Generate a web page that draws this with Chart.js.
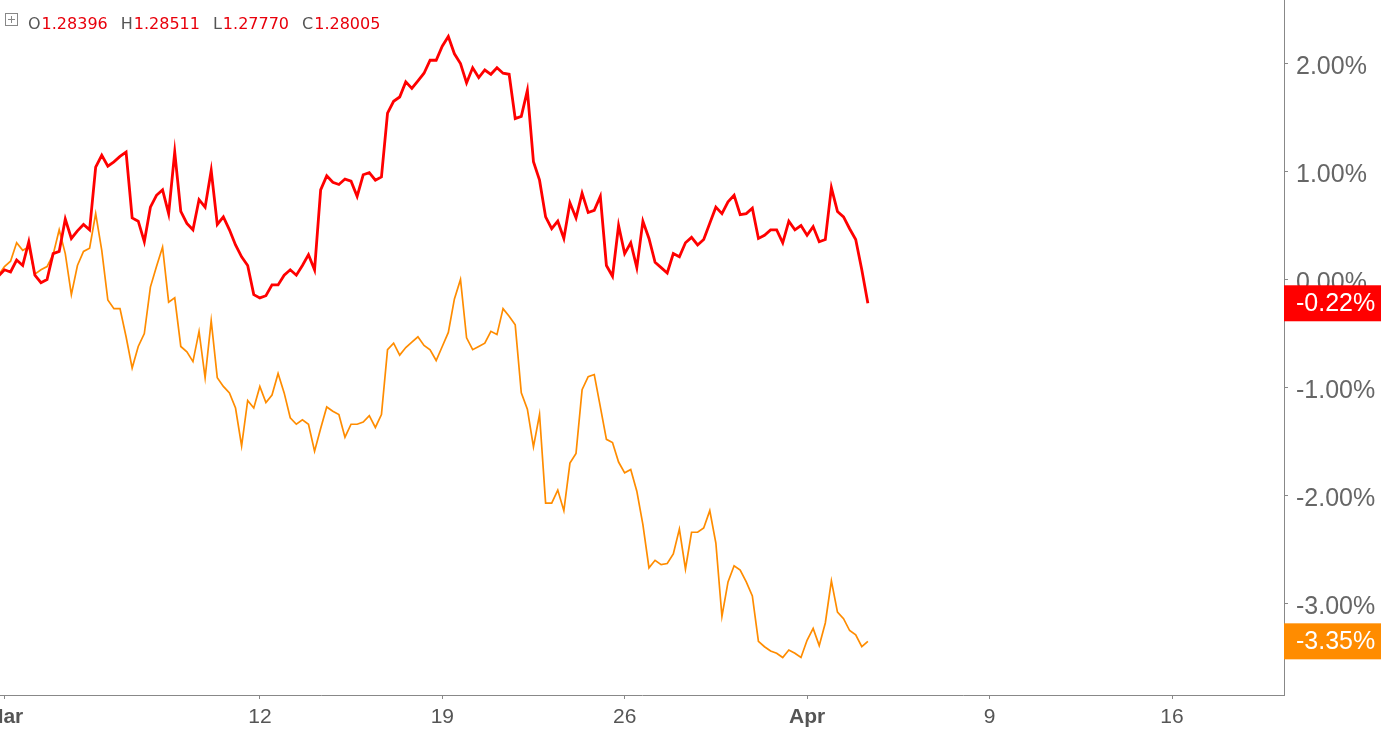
<!DOCTYPE html>
<html>
<head>
<meta charset="utf-8">
<script src="https://cdn.jsdelivr.net/npm/chart.js@4.4.1/dist/chart.umd.min.js"></script>
<style>
  html, body { margin: 0; padding: 0; background: #fff; }
  #wrap { width: 1381px; height: 729px; }
</style>
</head>
<body>
<div id="wrap"><canvas id="cmp" width="1381" height="729"></canvas></div>
<script>
// percent change vs first visible bar, 4h bars
const red = [
  0.03, 0.09, 0.07, 0.18, 0.13, 0.35, 0.04, -0.03, 0.00, 0.24,
  0.26, 0.56, 0.38, 0.45, 0.51, 0.46, 1.04, 1.15, 1.05, 1.09,
  1.14, 1.18, 0.57, 0.54, 0.35, 0.67, 0.78, 0.83, 0.61, 1.18,
  0.63, 0.52, 0.46, 0.74, 0.67, 1.01, 0.51, 0.58, 0.46, 0.32,
  0.21, 0.13, -0.14, -0.17, -0.15, -0.05, -0.05, 0.04, 0.09, 0.04,
  0.13, 0.23, 0.09, 0.83, 0.96, 0.90, 0.88, 0.93, 0.91, 0.77,
  0.97, 0.99, 0.92, 0.95, 1.54, 1.65, 1.69, 1.83, 1.77, 1.84,
  1.91, 2.03, 2.03, 2.16, 2.25, 2.09, 2.00, 1.82, 1.96, 1.87,
  1.94, 1.90, 1.96, 1.91, 1.90, 1.49, 1.51, 1.75, 1.09, 0.92,
  0.58, 0.47, 0.54, 0.38, 0.71, 0.57, 0.80, 0.62, 0.64, 0.77,
  0.13, 0.03, 0.50, 0.24, 0.34, 0.11, 0.54, 0.38, 0.16, 0.11,
  0.06, 0.24, 0.21, 0.34, 0.39, 0.32, 0.37, 0.52, 0.67, 0.61,
  0.72, 0.78, 0.60, 0.61, 0.66, 0.38, 0.41, 0.46, 0.46, 0.34,
  0.54, 0.46, 0.50, 0.41, 0.49, 0.35, 0.37, 0.85, 0.63, 0.58,
  0.47, 0.37, 0.09, -0.22
];
const orange = [
  0.04, 0.12, 0.17, 0.34, 0.27, 0.30, 0.05, 0.09, 0.12, 0.23,
  0.46, 0.24, -0.14, 0.13, 0.26, 0.29, 0.61, 0.27, -0.19, -0.27,
  -0.27, -0.53, -0.82, -0.62, -0.50, -0.07, 0.12, 0.30, -0.21, -0.17,
  -0.62, -0.67, -0.76, -0.48, -0.91, -0.38, -0.91, -0.99, -1.05, -1.19,
  -1.54, -1.12, -1.19, -0.99, -1.14, -1.07, -0.87, -1.05, -1.28, -1.34,
  -1.30, -1.34, -1.59, -1.38, -1.18, -1.22, -1.25, -1.46, -1.34, -1.34,
  -1.32, -1.26, -1.37, -1.25, -0.65, -0.59, -0.70, -0.63, -0.58, -0.53,
  -0.61, -0.65, -0.75, -0.62, -0.49, -0.18, 0.00, -0.54, -0.65, -0.62,
  -0.59, -0.48, -0.51, -0.27, -0.34, -0.42, -1.05, -1.20, -1.55, -1.25,
  -2.07, -2.07, -1.95, -2.14, -1.70, -1.61, -1.02, -0.90, -0.88, -1.18,
  -1.48, -1.51, -1.69, -1.79, -1.76, -1.96, -2.27, -2.67, -2.60, -2.64,
  -2.63, -2.54, -2.31, -2.68, -2.34, -2.34, -2.30, -2.14, -2.44, -3.12,
  -2.80, -2.65, -2.69, -2.80, -2.93, -3.35, -3.40, -3.44, -3.46, -3.50,
  -3.43, -3.46, -3.50, -3.34, -3.23, -3.39, -3.18, -2.79, -3.08, -3.14,
  -3.25, -3.29, -3.40, -3.35
];

// x axis in trading days since Mar 1 (weekends skipped)
const xTickDays = [0, 7, 12, 17, 22, 27, 32];
const xTickLabels = ['Mar', '12', '19', '26', 'Apr', '9', '16'];
const monthLabels = ['Mar', 'Apr'];
const yTicks = [-3, -2, -1, 0, 1, 2];
const ohlc = [['O', '1.28396'], ['H', '1.28511'], ['L', '1.27770'], ['C', '1.28005']];

const FIRST_DAY = -0.17;
const BARS_PER_DAY = 6;
const RED = '#ff0000';
const ORANGE = '#ff8c00';
const SANS = '"Liberation Sans", Arial, sans-serif';

const toPoints = arr => arr.map((v, i) => ({ x: FIRST_DAY + i / BARS_PER_DAY, y: v }));
const xLabel = v => {
  const i = xTickDays.indexOf(v);
  return i < 0 ? '' : xTickLabels[i];
};

const overlay = {
  id: 'overlay',
  afterDraw(chart) {
    const ctx = chart.ctx;
    const ys = chart.scales.y;
    const area = chart.chartArea;
    ctx.save();

    // last value tags on the price scale
    [[red, RED], [orange, ORANGE]].forEach(([arr, col]) => {
      const v = arr[arr.length - 1];
      const py = ys.getPixelForValue(v);
      ctx.fillStyle = col;
      ctx.fillRect(area.right, py - 18, chart.width - area.right, 36);
      ctx.fillStyle = '#fff';
      ctx.font = '25px ' + SANS;
      ctx.textAlign = 'left';
      ctx.textBaseline = 'middle';
      ctx.fillText(v.toFixed(2) + '%', area.right + 12, py + 1);
    });

    // header: small box icon + OHLC
    ctx.strokeStyle = '#888';
    ctx.lineWidth = 1;
    ctx.strokeRect(5.5, 13.5, 12, 12);
    ctx.beginPath();
    ctx.moveTo(8, 19.5); ctx.lineTo(15, 19.5);
    ctx.moveTo(11.5, 16); ctx.lineTo(11.5, 23);
    ctx.stroke();

    ctx.font = '16px "DejaVu Sans", Verdana, sans-serif';
    ctx.textBaseline = 'alphabetic';
    let x = 28;
    ohlc.forEach(([k, v]) => {
      ctx.fillStyle = '#555';
      ctx.fillText(k, x, 29);
      x += ctx.measureText(k).width + 1;
      ctx.fillStyle = '#e8000b';
      ctx.fillText(v, x, 29);
      x += ctx.measureText(v).width + 13;
    });
    ctx.restore();
  }
};

new Chart(document.getElementById('cmp').getContext('2d'), {
  type: 'line',
  data: {
    datasets: [
      {
        label: 'GBPUSD',
        data: toPoints(red),
        borderColor: RED,
        borderWidth: 2.8,
        pointRadius: 0,
        tension: 0
      },
      {
        label: 'Compare',
        data: toPoints(orange),
        borderColor: ORANGE,
        borderWidth: 1.7,
        pointRadius: 0,
        tension: 0
      }
    ]
  },
  options: {
    responsive: false,
    animation: false,
    layout: { padding: 0 },
    plugins: {
      legend: { display: false },
      tooltip: { enabled: false }
    },
    scales: {
      x: {
        type: 'linear',
        min: -0.126,
        max: 35.07,
        grid: { display: true, drawOnChartArea: false, drawTicks: true, tickLength: 4, color: '#888' },
        border: { display: true, color: '#888', width: 1 },
        afterBuildTicks: s => { s.ticks = xTickDays.map(v => ({ value: v })); },
        afterFit: s => { s.height = 34; s.paddingLeft = 0; s.paddingRight = 0; },
        ticks: {
          autoSkip: false,
          maxRotation: 0,
          padding: 6,
          color: '#555',
          font: ctx => ({
            family: SANS,
            size: 21,
            weight: ctx && ctx.tick && monthLabels.includes(xLabel(ctx.tick.value)) ? 'bold' : 'normal'
          }),
          callback: v => xLabel(v)
        }
      },
      y: {
        position: 'right',
        min: -3.847,
        max: 2.588,
        grid: { display: true, drawOnChartArea: false, drawTicks: true, tickLength: 4, color: '#888' },
        border: { display: true, color: '#888', width: 1 },
        afterBuildTicks: s => { s.ticks = yTicks.map(v => ({ value: v })); },
        afterFit: s => { s.width = 97; s.paddingTop = 0; s.paddingBottom = 0; },
        ticks: {
          padding: 8,
          labelOffset: 4,
          color: '#666',
          font: { family: SANS, size: 25 },
          callback: v => v.toFixed(2) + '%'
        }
      }
    }
  },
  plugins: [overlay]
});
</script>
</body>
</html>
